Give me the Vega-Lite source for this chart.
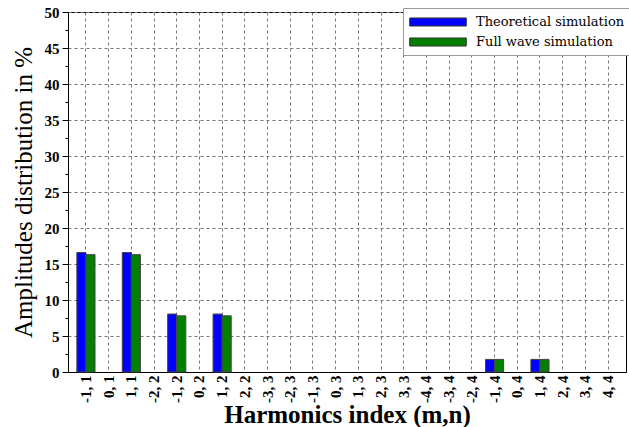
{
  "$schema": "https://vega.github.io/schema/vega-lite/v6.json",
  "width": 558,
  "height": 360,
  "autosize": "none",
  "padding": {"left": 68, "top": 12, "right": 3, "bottom": 55},
  "config": {
    "font": "Liberation Serif",
    "view": {"stroke": "#000", "strokeWidth": 1}
  },
  "data": {
    "values": [
      {"h": "-1, 1", "s": "Theoretical simulation", "v": 16.6},
      {"h": "-1, 1", "s": "Full wave simulation", "v": 16.3},
      {"h": "0, 1", "s": "Theoretical simulation", "v": 0},
      {"h": "0, 1", "s": "Full wave simulation", "v": 0},
      {"h": "1, 1", "s": "Theoretical simulation", "v": 16.6},
      {"h": "1, 1", "s": "Full wave simulation", "v": 16.3},
      {"h": "-2, 2", "s": "Theoretical simulation", "v": 0},
      {"h": "-2, 2", "s": "Full wave simulation", "v": 0},
      {"h": "-1, 2", "s": "Theoretical simulation", "v": 8.05},
      {"h": "-1, 2", "s": "Full wave simulation", "v": 7.8},
      {"h": "0, 2", "s": "Theoretical simulation", "v": 0},
      {"h": "0, 2", "s": "Full wave simulation", "v": 0},
      {"h": "1, 2", "s": "Theoretical simulation", "v": 8.05},
      {"h": "1, 2", "s": "Full wave simulation", "v": 7.8},
      {"h": "2, 2", "s": "Theoretical simulation", "v": 0},
      {"h": "2, 2", "s": "Full wave simulation", "v": 0},
      {"h": "-3, 3", "s": "Theoretical simulation", "v": 0},
      {"h": "-3, 3", "s": "Full wave simulation", "v": 0},
      {"h": "-2, 3", "s": "Theoretical simulation", "v": 0},
      {"h": "-2, 3", "s": "Full wave simulation", "v": 0},
      {"h": "-1, 3", "s": "Theoretical simulation", "v": 0},
      {"h": "-1, 3", "s": "Full wave simulation", "v": 0},
      {"h": "0, 3", "s": "Theoretical simulation", "v": 0},
      {"h": "0, 3", "s": "Full wave simulation", "v": 0},
      {"h": "1, 3", "s": "Theoretical simulation", "v": 0},
      {"h": "1, 3", "s": "Full wave simulation", "v": 0},
      {"h": "2, 3", "s": "Theoretical simulation", "v": 0},
      {"h": "2, 3", "s": "Full wave simulation", "v": 0},
      {"h": "3, 3", "s": "Theoretical simulation", "v": 0},
      {"h": "3, 3", "s": "Full wave simulation", "v": 0},
      {"h": "-4, 4", "s": "Theoretical simulation", "v": 0},
      {"h": "-4, 4", "s": "Full wave simulation", "v": 0},
      {"h": "-3, 4", "s": "Theoretical simulation", "v": 0},
      {"h": "-3, 4", "s": "Full wave simulation", "v": 0},
      {"h": "-2, 4", "s": "Theoretical simulation", "v": 0},
      {"h": "-2, 4", "s": "Full wave simulation", "v": 0},
      {"h": "-1, 4", "s": "Theoretical simulation", "v": 1.75},
      {"h": "-1, 4", "s": "Full wave simulation", "v": 1.75},
      {"h": "0, 4", "s": "Theoretical simulation", "v": 0},
      {"h": "0, 4", "s": "Full wave simulation", "v": 0},
      {"h": "1, 4", "s": "Theoretical simulation", "v": 1.75},
      {"h": "1, 4", "s": "Full wave simulation", "v": 1.75},
      {"h": "2, 4", "s": "Theoretical simulation", "v": 0},
      {"h": "2, 4", "s": "Full wave simulation", "v": 0},
      {"h": "3, 4", "s": "Theoretical simulation", "v": 0},
      {"h": "3, 4", "s": "Full wave simulation", "v": 0},
      {"h": "4, 4", "s": "Theoretical simulation", "v": 0},
      {"h": "4, 4", "s": "Full wave simulation", "v": 0}
    ]
  },
  "mark": {"type": "bar", "stroke": "#444", "strokeWidth": 1},
  "encoding": {
    "x": {
      "field": "h",
      "type": "nominal",
      "sort": null,
      "scale": {"paddingInner": 0.2, "paddingOuter": 0.39},
      "axis": {
        "title": "Harmonics index (m,n)",
        "titleFont": "Liberation Serif",
        "titleFontSize": 25,
        "titleFontWeight": "bold",
        "titleColor": "#000",
        "titlePadding": 0,
        "labelAngle": -90,
        "labelFont": "Liberation Serif",
        "labelFontSize": 15,
        "labelFontWeight": "bold",
        "labelColor": "#000",
        "labelPadding": 3,
        "bandPosition": 0.5,
        "domainColor": "#000",
        "ticks": false,
        "grid": true,
        "gridDash": [3, 3],
        "gridColor": "#777",
        "gridWidth": 1
      }
    },
    "xOffset": {"field": "s", "type": "nominal", "sort": ["Theoretical simulation", "Full wave simulation"], "scale": {"paddingInner": 0, "paddingOuter": 0}},
    "y": {
      "field": "v",
      "type": "quantitative",
      "scale": {"domain": [0, 50], "nice": false},
      "axis": {
        "title": "Amplitudes distribution in %",
        "titleFont": "Liberation Serif",
        "titleFontSize": 25,
        "titleFontWeight": "normal",
        "titleColor": "#000",
        "titlePadding": 8,
        "values": [0, 2.5, 5, 7.5, 10, 12.5, 15, 17.5, 20, 22.5, 25, 27.5, 30, 32.5, 35, 37.5, 40, 42.5, 45, 47.5, 50],
        "labelExpr": "datum.value % 5 == 0 ? datum.label : ''",
        "labelFont": "Liberation Serif",
        "labelFontSize": 15,
        "labelFontWeight": "bold",
        "labelColor": "#000",
        "labelPadding": 3,
        "domainColor": "#000",
        "tickColor": "#000",
        "tickSize": {"condition": {"test": "datum.value % 5 != 0", "value": 3}, "value": 6},
        "grid": true,
        "gridOpacity": {"condition": {"test": "datum.value % 5 != 0", "value": 0}, "value": 1},
        "gridDash": [3, 3],
        "gridColor": "#777",
        "gridWidth": 1
      }
    },
    "strokeOpacity": {
      "condition": {"test": "datum.v == 0", "value": 0},
      "value": 1
    },
    "color": {
      "field": "s",
      "type": "nominal",
      "sort": ["Theoretical simulation", "Full wave simulation"],
      "scale": {"domain": ["Theoretical simulation", "Full wave simulation"], "range": ["#0000ff", "#007f00"]},
      "legend": {
        "title": null,
        "orient": "none",
        "legendX": 335,
        "legendY": -4,
        "symbolType": "M-4,-0.57H4V0.57H-4Z",
        "symbolSize": 200,
        "symbolOffset": 21,
        "symbolStrokeColor": "#333",
        "symbolStrokeWidth": 1,
        "labelFont": "DejaVu Serif",
        "labelFontSize": 13,
        "labelColor": "#000",
        "labelOffset": 30,
        "labelLimit": 300,
        "rowPadding": 5,
        "padding": 6,
        "strokeColor": "#999",
        "fillColor": "#fff"
      }
    }
  }
}
